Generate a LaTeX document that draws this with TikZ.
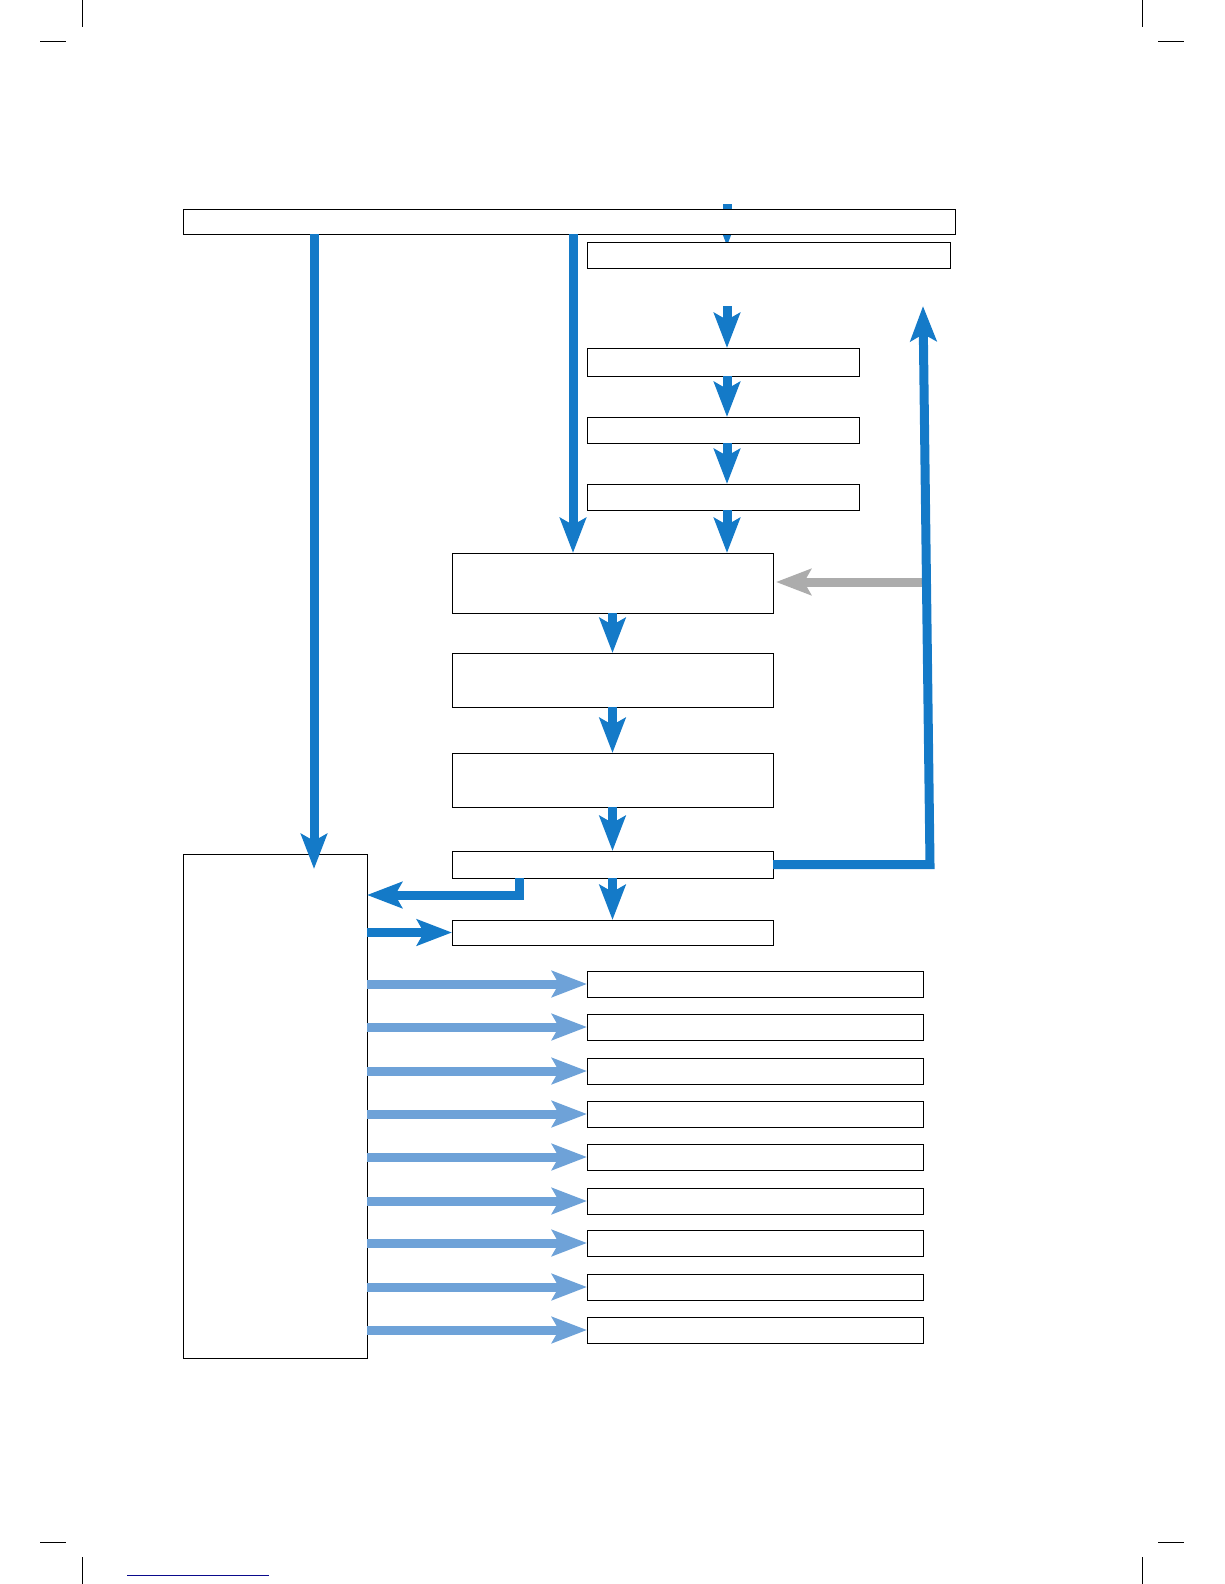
\documentclass[tikz,border=0pt]{standalone}
\usepackage{tikz}
\usetikzlibrary{arrows.meta, backgrounds}

\definecolor{flowblue}{RGB}{20,122,200}
\definecolor{paleblue}{RGB}{110,162,216}
\definecolor{backgrey}{RGB}{172,172,172}
\definecolor{linknavy}{RGB}{10,10,140}

\begin{document}
\begin{tikzpicture}[x=1pt, y=-1pt,
    box/.style={draw, fill=white, line width=1pt, anchor=north west, inner sep=0pt, outer sep=0pt},
    flow/.style={draw=flowblue, line width=9pt, -{Stealth[length=35pt, width=26pt, inset=7pt]}},
    pale/.style={flow, draw=paleblue},
    back/.style={flow, draw=backgrey},
    cropline/.style={line width=1pt}]
    \useasboundingbox (0,0) rectangle (1224,1584);

    % crop marks
    \draw[cropline] (82,0) -- (82,27);       \draw[cropline] (40,42) -- (66,42);
    \draw[cropline] (1142,0) -- (1142,27);   \draw[cropline] (1158,42) -- (1184,42);
    \draw[cropline] (82,1557) -- (82,1584);  \draw[cropline] (40,1542) -- (66,1542);
    \draw[cropline] (1142,1557) -- (1142,1584); \draw[cropline] (1158,1542) -- (1184,1542);
    \draw[linknavy, line width=1pt] (127,1575) -- (269,1575);

    % boxes
    \node[box, minimum width=772, minimum height=25] (hdr) at (183,209) {};
    \node[box, minimum width=363, minimum height=26] (a) at (587,242) {};
    \node[box, minimum width=272, minimum height=28] (b) at (587,348) {};
    \node[box, minimum width=272, minimum height=26] (c) at (587,417) {};
    \node[box, minimum width=272, minimum height=26] (d) at (587,484) {};
    \node[box, minimum width=321, minimum height=60] (e) at (452,553) {};
    \node[box, minimum width=321, minimum height=54] (f) at (452,653) {};
    \node[box, minimum width=321, minimum height=54] (g) at (452,753) {};
    \node[box, minimum width=321, minimum height=27] (h) at (452,851) {};
    \node[box, minimum width=321, minimum height=25] (i) at (452,920) {};
    \node[box, minimum width=184, minimum height=504] (big) at (183,854) {};
    \foreach \y [count=\k] in {984,1027,1071,1114,1157,1201,1243,1287,1330}
        \node[box, anchor=west, minimum width=336, minimum height=26] (j\k) at (587,\y) {};

    % helper points
    \coordinate (s0) at (727,204);
    \coordinate (s1) at (727,306);
    \coordinate (k1) at (573,0);
    \coordinate (k2) at (314,869);
    \coordinate (gr) at (922,582);
    \coordinate (fb1) at (930,0);
    \coordinate (fb2) at (923,306);
    \coordinate (br) at (519,895);

    \begin{pgfonlayer}{background}
        \draw[flow, shorten >=-4pt] (s0) -- (s0 |- a.north);
    \end{pgfonlayer}

    % main chain
    \draw[flow] (s1) -- (s1 |- b.north);
    \draw[flow] (b.south -| s1) -- (c.north -| s1);
    \draw[flow] (c.south -| s1) -- (d.north -| s1);
    \draw[flow] (d.south -| s1) -- (e.north -| s1);
    \draw[flow] (hdr.south -| k1) -- (e.north -| k1);
    \draw[flow] (hdr.south -| k2) -- (k2);
    \draw[flow] (e.south) -- (f.north);
    \draw[flow] (f.south) -- (g.north);
    \draw[flow] (g.south) -- (h.north);
    \draw[flow] (h.south) -- (i.north);
    \draw[back, shorten >=3pt] (gr) -- (gr -| e.east);
    \draw[flow] (h.east) -- (h.east -| fb1) -- (fb2);
    \draw[flow] (h.south -| br) -- (br) -- (br -| big.east);
    \draw[flow] (big.east |- i.west) -- (i.west);
    \foreach \k in {1,...,9}
        \draw[pale] (big.east |- j\k.west) -- (j\k.west);
\end{tikzpicture}
\end{document}
